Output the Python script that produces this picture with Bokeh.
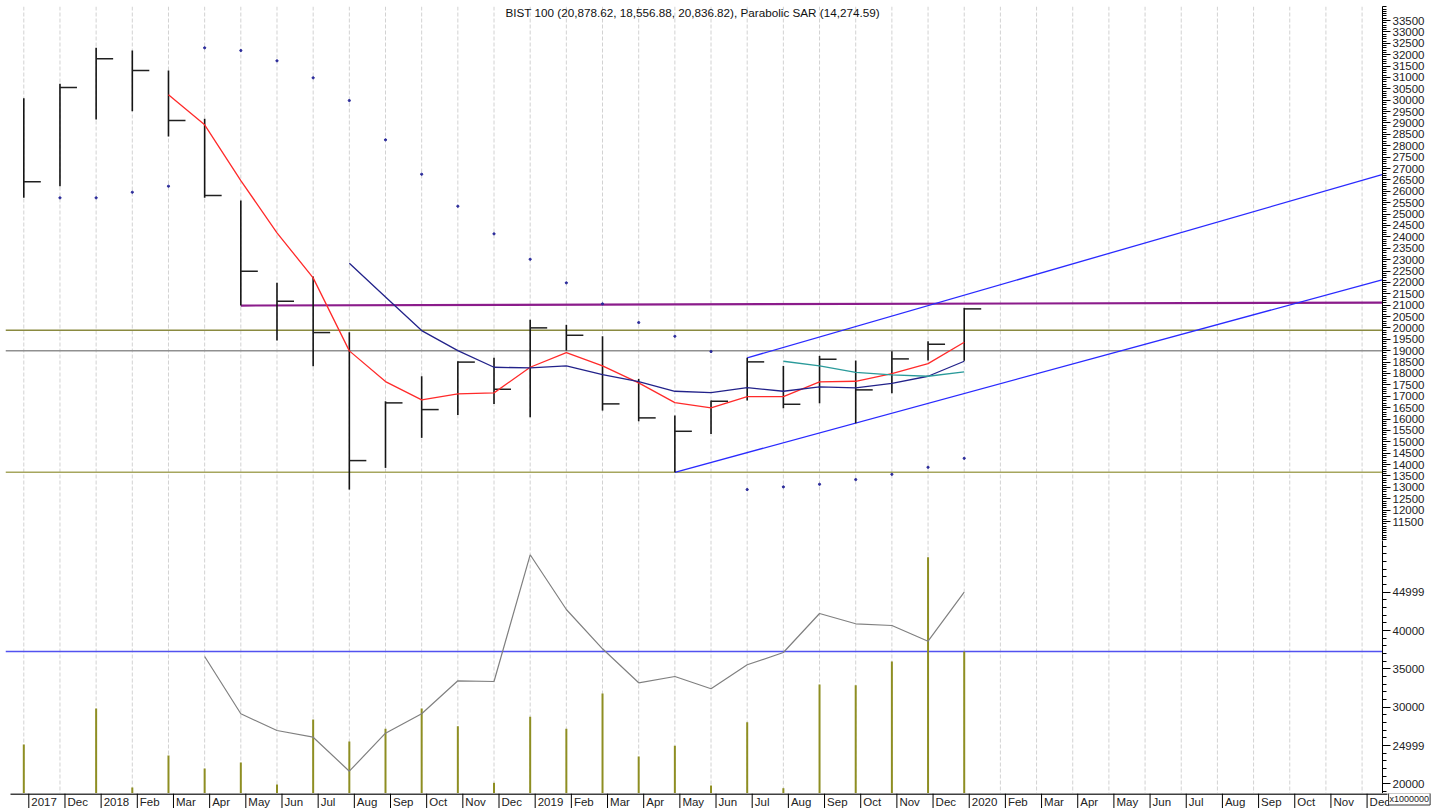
import math
from bokeh.plotting import figure
from bokeh.layouts import column
from bokeh.models import Range1d, FixedTicker, Span, Label, NumeralTickFormatter
from bokeh.embed import file_html
from bokeh.resources import INLINE
from bokeh.core.properties import value

NaN = float("nan")

# ---------------- data ----------------
month_labels = ["2017", "Dec", "2018", "Feb", "Mar", "Apr", "May", "Jun", "Jul", "Aug", "Sep", "Oct", "Nov", "Dec",
                "2019", "Feb", "Mar", "Apr", "May", "Jun", "Jul", "Aug", "Sep", "Oct", "Nov", "Dec",
                "2020", "Feb", "Mar", "Apr", "May", "Jun", "Jul", "Aug", "Sep", "Oct", "Nov", "Dec"]

bar_high = [30088, 30720, 32301, 32182, 31304, 29183, 25594, 21980, 22256, 19810, 16780, 17878, 18540,
            18686, 20355, 20135, 19634, 17763, 16152, 16810, 18686, 18334, 18773, 18567, 18976, 19415, 20878.62]
bar_low = [25713, 26223, 29152, 29517, 28405, 25713, 20983, 19446, 18317, 12902, 13854, 15172, 16182,
           16665, 16077, 19006, 16371, 15901, 13662, 15348, 16810, 16472, 16692, 15813, 17132, 18567, 18556.88]
bar_close = [26416, 30557, 31818, 31304, 29108, 25814, 22489, 21172, 19797, 14175, 16709, 16415, 18500,
             17307, 20003, 19678, 16665, 16050, 15462, 16780, 18510, 16648, 18625, 17280, 18640, 19284, 20836.82]

parabolic_sar = [NaN, 25713, 25713, 25959, 26222, 32301, 32182, 31730, 30983, 29986, 28260, 26749, 25344,
                 24132, 23016, 21980, 21057, 20236, 19634, 18962, 12902, 13020, 13134, 13341, 13573, 13881, 14274.59]

ma_red = [NaN, NaN, NaN, NaN, 30237, 28919, 26473, 24176, 22199, 18993, 17645, 16841, 17105,
          17149, 18273, 18918, 18334, 17587, 16722, 16489, 16986, 16986, 17631, 17658, 17996, 18435, 19371]
ma_navy = [NaN] * 9 + [22840, 21356, 19885, 19006, 18273, 18247, 18334, 17952, 17645,
                       17219, 17162, 17381, 17219, 17412, 17368, 17570, 17878, 18537]
ma_teal = [NaN] * 21 + [18537, 18334, 18053, 17939, 17878, 18071]

volume = [25130, 18500, 29830, 19517, 23695, 21997, 22781, 19909, 28394, 25522, 27180, 29830, 27520,
          20130, 28747, 27180, 31788, 23564, 24961, 19778, 28042, 19426, 32963, 32872, 35966, 49582, 37272]
volume_ma = [NaN] * 5 + [36619, 29138, 26958, 26084, 21645, 26606, 29138, 33446, 33355, 49896, 42755,
                         37624, 33185, 34008, 32402, 35535, 37141, 42232, 40888, 40666, 38616, 45013]
volume_level = 37272

level_values = [19900, 19000, 13662]
level_colors = ["#8a8a40", "#909090", "#a6a65e"]

trend_upper_x = [20, 37.55]
trend_upper_y = [18686, 26736]
trend_lower_x = [18, 37.55]
trend_lower_y = [13662, 22112]
resistance_x = [6, 37.55]
resistance_y = [20983, 21115]

price_ticks = list(range(11500, 34000, 500))
volume_ticks = [20000, 24999, 30000, 35000, 40000, 44999]

title_text = "BIST 100 (20,878.62, 18,556.88, 20,836.82), Parabolic SAR (14,274.59)"

# ---------------- layout ----------------
n = len(bar_close)
idx = list(range(n))
FONT = "Liberation Sans"
LB = 5          # left border
FW = 1377       # frame width
RB = 56         # right border
PX = 36.17      # pixels per month
x0 = -(23.3 - LB) / PX
xr = Range1d(x0, x0 + FW / PX)


def style_right_axis(ax, major_out, minor_out):
    ax.major_label_text_font = FONT
    ax.major_label_text_font_size = "11.5px"
    ax.major_label_text_color = "#222222"
    ax.major_tick_out = major_out
    ax.major_tick_in = 0
    ax.minor_tick_out = minor_out
    ax.minor_tick_in = 0
    ax.major_label_standoff = 2
    ax.axis_line_color = "black"
    ax.major_tick_line_color = "black"
    ax.minor_tick_line_color = "black"


def add_month_grid(p):
    for i in range(len(month_labels)):
        p.add_layout(Span(location=i, dimension="height", line_color="#d2d2d2",
                          line_dash="4 2", line_width=1, level="underlay"))


# ---- price panel ----
top = figure(frame_width=FW, frame_height=534, x_range=xr, y_range=Range1d(10666, 34115),
             output_backend="svg", toolbar_location=None, x_axis_location=None,
             y_axis_location="right", min_border_left=LB, min_border_top=6,
             min_border_bottom=0, min_border_right=RB)
top.outline_line_color = None
top.xgrid.visible = False
top.ygrid.visible = False
add_month_grid(top)

ya = top.yaxis[0]
ya.ticker = FixedTicker(ticks=price_ticks, minor_ticks=list(range(10700, 34200, 100)))
ya.formatter = NumeralTickFormatter(format="0")
style_right_axis(ya, 8, 4)

for v, c in zip(level_values, level_colors):
    top.add_layout(Span(location=v, dimension="width", line_color=c, line_width=1.5, level="underlay"))

top.line(resistance_x, resistance_y, line_color="#8b1c8b", line_width=2.2)
top.line(trend_upper_x, trend_upper_y, line_color="#2a2aff", line_width=1.3)
top.line(trend_lower_x, trend_lower_y, line_color="#2a2aff", line_width=1.3)

top.segment(x0=idx, y0=bar_low, x1=idx, y1=bar_high, line_color="#151515", line_width=1.6)
top.segment(x0=idx, y0=bar_close, x1=[i + 0.47 for i in idx], y1=bar_close,
            line_color="#202020", line_width=1.5)

top.line(idx, ma_red, line_color="#ff2a2a", line_width=1.3)
top.line(idx, ma_navy, line_color="#22228a", line_width=1.3)
top.line(idx, ma_teal, line_color="#2a9a9a", line_width=1.3)

top.scatter(idx, parabolic_sar, size=2.2, color="#2a2a9a", marker="circle")

top.add_layout(Label(x=505 - LB, y=534 - 6, x_units="screen", y_units="screen", text=title_text,
                     text_font=FONT, text_font_size="11.7px", text_color="#111111",
                     text_baseline="middle"))

# ---- volume panel ----
bot = figure(frame_width=FW, frame_height=253, x_range=xr, y_range=Range1d(18734, 51762),
             output_backend="svg", toolbar_location=None, x_axis_location=None,
             y_axis_location="right", min_border_left=LB, min_border_top=0,
             min_border_bottom=0, min_border_right=RB)
bot.outline_line_color = None
bot.xgrid.visible = False
bot.ygrid.visible = False
add_month_grid(bot)

yb = bot.yaxis[0]
yb.ticker = FixedTicker(ticks=volume_ticks, minor_ticks=list(range(19000, 52000, 1000)))
yb.major_label_overrides = {t: str(t) for t in volume_ticks}
style_right_axis(yb, 8, 4)

bot.vbar(x=idx, top=volume, bottom=15000, width=0.055, fill_color="#8e8e22", line_color=None)
bot.add_layout(Span(location=volume_level, dimension="width", line_color="#5252f0",
                    line_width=1.6, level="underlay"))
bot.line(idx, volume_ma, line_color="#808080", line_width=1.2)

# ---- month label strip (full width frame) ----
SW = LB + FW + RB
sx0 = -23.3 / PX
strip = figure(frame_width=SW, frame_height=15, x_range=Range1d(sx0, sx0 + SW / PX),
               y_range=Range1d(0, 15), output_backend="svg", toolbar_location=None,
               x_axis_location=None, y_axis_location=None, min_border_left=0,
               min_border_top=0, min_border_bottom=0, min_border_right=0)
strip.outline_line_color = None
strip.xgrid.visible = False
strip.ygrid.visible = False
midx = list(range(len(month_labels)))
axis_end = (LB + FW - 23.3) / PX
strip.line([(LB - 23.3) / PX, axis_end], [14.4, 14.4], line_color="black", line_width=1.5)
strip.segment(x0=midx, y0=0, x1=midx, y1=15, line_color="black", line_width=1)
strip.text(x=[i + 0.07 for i in midx], y=7, text=month_labels, text_font=value(FONT),
           text_font_size="11.5px", text_color="#222222", text_baseline="middle", text_align="left")
strip.add_layout(Label(x=axis_end + 0.03, y=9.5, text="x1000000", text_font=FONT,
                       text_font_size="9px", text_color="#222222", text_baseline="middle",
                       border_line_color="#333333", background_fill_color="white", padding=1))

layout = column(top, bot, strip, spacing=0)

with open("out.html", "w") as f:
    f.write(file_html(layout, INLINE))
